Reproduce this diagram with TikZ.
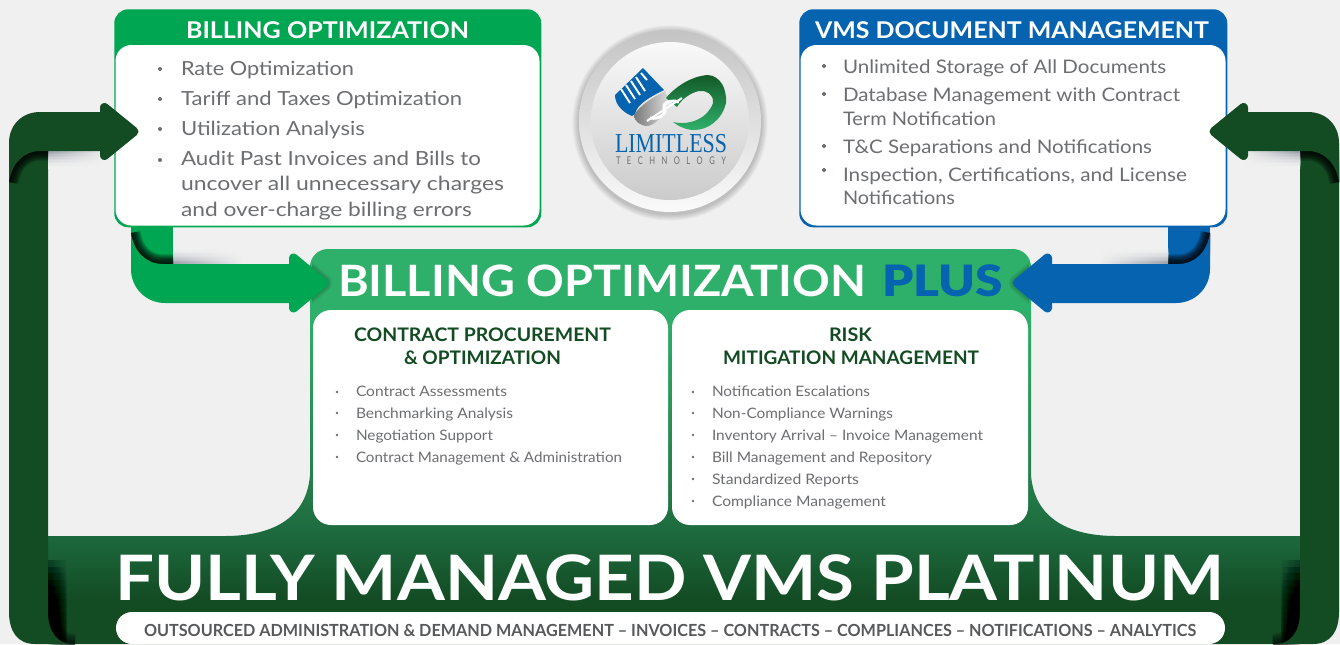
\documentclass[tikz,border=0pt]{standalone}
\usepackage{fontspec}
\usepackage{graphicx}
\setmainfont{Lato}
\newfontfamily\lblack{Lato Black}
\newfontfamily\logoserif{Liberation Serif}
\definecolor{bgc}{HTML}{F0F0F0}
\definecolor{gBright}{HTML}{00A651}
\definecolor{bBlue}{HTML}{0563B0}
\definecolor{gDark}{HTML}{134B23}
\definecolor{g1}{HTML}{2FB06A}
\definecolor{g2}{HTML}{247F4A}
\definecolor{g3}{HTML}{1C673C}
\definecolor{txtg}{HTML}{6D6E71}
\definecolor{subg}{HTML}{58595B}
\definecolor{shad}{HTML}{4F5A6E}
\definecolor{ringT}{HTML}{C4C4C4}
\definecolor{ringB}{HTML}{FAFAFA}
\definecolor{discT}{HTML}{F9F9F9}
\definecolor{discB}{HTML}{CBCBCB}
\definecolor{swL}{HTML}{787878}
\definecolor{swR}{HTML}{DCDCDC}
\definecolor{lgT}{HTML}{145A28}
\pgfdeclareverticalshading{bodyg}{100bp}{color(0bp)=(gDark); color(30.6bp)=(gDark); color(38.2bp)=(g3); color(45.8bp)=(g2); color(67.3bp)=(g1); color(100bp)=(g1)}
\newlength\pxu \pxu=0.75pt
\newcommand\fw[2]{\resizebox{#1\pxu}{\height}{#2}}
\newcommand\txt[6]{\node[tx,#5] (#1) at (#2,#3) {\fw{#4}{#6}};}
\newcommand\stackfold[3]{\foreach \k in {1,...,8}{\draw[black,opacity=#2,line width={\k*#3}] #1;}}
\newcommand\headshape[5]{% colour, barb x, tip x, mid y, half height
  \draw[#1,fill=#1,line width=9\pxu,line cap=round,line join=round] (#2,#4-#5) -- (#3,#4) -- (#2,#4+#5) -- cycle;}
% soft shadow on the flat ground: nested opaque strips, #1/#2 = side of the dark end
\newcommand\softshadow[7]{% dark side, light side, x0, x1, y0, step (signed), peak percent
  \foreach \r in {12,11,...,1}{%
    \pgfmathtruncatemacro\pp{#7*(1-\r/13)*(1-\r/13)}
    \shade[#1 color=shad!\pp!bgc,#2 color=bgc] (#3,#5) rectangle (#4,{#5+\r*#6});
  }}
\newcommand\frameside[2]{%
  \foreach \r in {0,...,11}{\foreach \c in {1,...,16}{\fill[black,opacity=.018] (48,{560+\r*6.5}) rectangle ({48+\c*1.2},644);}}
  \stackfold{(48,612) .. controls (48,632) and (58,644) .. (75,644)}{.12}{2.6\pxu}
  \fill[gDark] (9,150) -- (9,612) .. controls (9,632) and (18,644) .. (35,644) -- (72,644) .. controls (58,644) and (48,632) .. (48,612) -- (48,150) -- cycle;
  \softshadow{#1}{#2}{48}{106}{151}{1.45}{62}
  \begin{scope}
    \clip (9,140) rectangle (48,205);
    \stackfold{(9,182) .. controls (12,163) and (24,151) .. (40,151) -- (48,151)}{.2}{2.4\pxu}
  \end{scope}
  \fill[gDark] (9,182) .. controls (12,163) and (24,151) .. (40,151) -- (106,151) -- (106,112) -- (40,112) .. controls (22,112) and (9,125) .. (9,143) -- cycle;
  \headshape{gDark}{104.5}{134}{131.5}{24}
}
\newcommand\lowerarm[3]{%
  \begin{scope}
    \clip (312,245) rectangle (345,320);
    \foreach \k in {1,...,6}{\draw[black,opacity=.07,line width={\k*3\pxu},line join=round] (293,258) -- (323,283) -- (293,308) -- cycle;}
  \end{scope}
  \fill[#1] (131,227) rectangle (173,266);
  \softshadow{#2}{#3}{173}{243}{264}{-1.3}{62}
  \begin{scope}
    \clip (131,227) rectangle (173,270);
    \stackfold{(131,233) .. controls (134,252) and (146,264) .. (163,264) -- (173,264)}{.2}{2.4\pxu}
  \end{scope}
  \fill[#1] (131,233) .. controls (134,252) and (146,264) .. (163,264) -- (295,264) -- (295,303) -- (165,303) .. controls (146,303) and (131,288) .. (131,269) -- cycle;
  \headshape{#1}{293.5}{323.5}{283}{25}
}
\tikzset{
  tx/.style={anchor=base west,inner sep=0pt,outer sep=0pt},
  bodyL/.style={font=\fontsize{14.6pt}{16pt}\selectfont,text=txtg},
  bodyR/.style={font=\fontsize{14pt}{16pt}\selectfont,text=txtg},
  bodyM/.style={font=\fontsize{10.8pt}{12pt}\selectfont,text=txtg},
  headW/.style={font=\fontsize{17.3pt}{19pt}\bfseries\selectfont,text=white},
  headG/.style={font=\fontsize{14pt}{16pt}\bfseries\selectfont,text=gDark}
}
\begin{document}
\begin{tikzpicture}[x=0.75pt,y=-0.75pt]
\useasboundingbox (0,0) rectangle (1340,644);
\fill[bgc] (0,0) rectangle (1340,644);
% central body
\shade[shading=bodyg] (48,536) -- (225,536) .. controls (262,536) and (306,525) .. (310,475) -- (310,267) .. controls (310,257) and (318,249) .. (328,249) -- (1013,249) .. controls (1023,249) and (1031,257) .. (1031,267) -- (1031,475) .. controls (1035,525) and (1079,536) .. (1116,536) -- (1300,536) -- (1300,644) -- (48,644) -- cycle;
\fill[white,rounded corners=13.5pt] (313,310) rectangle (668,525);
\fill[white,rounded corners=13.5pt] (672,310) rectangle (1028,525);
\fill[white,rounded corners=12pt] (116,612) rectangle (1225,644);
% boxes
\node[draw=none,fill=gBright,rounded corners=10.5pt,minimum width=427\pxu,minimum height=218\pxu,inner sep=0pt,anchor=north west] (boxL) at (114,9) {};
\fill[white,rounded corners=12pt] (115.5,45) rectangle (539.5,225.5);
\node[draw=none,fill=bBlue,rounded corners=10.5pt,minimum width=428\pxu,minimum height=218\pxu,inner sep=0pt,anchor=north west] (boxR) at (799,9) {};
\fill[white,rounded corners=12pt] (800.5,45) rectangle (1225.5,225.5);
% green and blue arrows
\lowerarm{gBright}{left}{right}
\begin{scope}[shift={(1341,0)},xscale=-1]
\lowerarm{bBlue}{right}{left}
\end{scope}
% frame
\frameside{left}{right}
\begin{scope}[shift={(1348,0)},xscale=-1]
\frameside{right}{left}
\end{scope}
% logo
\foreach \k in {1,...,6}{\fill[black,opacity=.035] (670,123) circle ({91+\k*1.1});}
\shade[top color=ringT,bottom color=ringB] (670,121) circle (91);
\shade[top color=discT,bottom color=discB] (670,121) circle (79);
\fill[bBlue] (615,95) -- (643,68) -- (664,90) .. controls (650,97) and (637,104) .. (635,114) -- (632,116) .. controls (622,112) and (615,104) .. (615,95) -- cycle;
\foreach \a/\b/\c/\d in {621/89/630/103,626/85/635/99,631/81/640/95,636/77/645/91,641/73/647/80}{\draw[white,line width=1.9\pxu] (\a,\b) -- (\c,\d);}
\shade[left color=swL,right color=swR] (634,115) .. controls (640,105) and (655,96) .. (665,91) -- (668,98) .. controls (666,112) and (658,124) .. (648,126) .. controls (640,126) and (634,121) .. (634,115) -- cycle;
\shade[top color=lgT,bottom color=g1] (666,98) .. controls (676,86) and (692,76) .. (708,75) .. controls (720,76) and (727,88) .. (726,103) .. controls (722,120) and (708,130) .. (694,130) .. controls (686,130) and (678,126) .. (673,122) .. controls (690,126) and (708,118) .. (713,103) .. controls (714,94) and (706,90) .. (699,91) .. controls (690,93) and (682,99) .. (677,107) -- cycle;
\draw[white,line width=2\pxu] (647,121) -- (682,98);
\draw[white,line width=3\pxu] (679,102) .. controls (670,99) and (662,104) .. (664,108) .. controls (668,112) and (660,120) .. (650,118);
\node[tx,font=\fontsize{20.5pt}{22pt}\logoserif\selectfont,text=bBlue] (lim) at (615,152) {\fw{112}{LIMITLESS}};
\node[tx,font=\fontsize{8pt}{9pt}\selectfont,text=txtg] (tech) at (616,164) {\fw{110}{T\hspace{6.8pt}E\hspace{6.8pt}C\hspace{6.8pt}H\hspace{6.8pt}N\hspace{6.8pt}O\hspace{6.8pt}L\hspace{6.8pt}O\hspace{6.8pt}G\hspace{6.8pt}Y}};
% box headers
\txt{tBO}{186}{38}{283}{headW}{BILLING OPTIMIZATION}
\txt{tVD}{815}{38}{394}{headW}{VMS DOCUMENT MANAGEMENT}
% left list
\foreach \y in {69,99,129,160}{\fill[txtg] (160,\y) circle (2);}
\txt{l1}{181}{75}{173}{bodyL}{Rate Optimization}
\txt{l2}{181}{105}{281}{bodyL}{Tariff and Taxes Optimization}
\txt{l3}{181}{135}{184}{bodyL}{Utilization Analysis}
\txt{l4}{181}{165}{300}{bodyL}{Audit Past Invoices and Bills to}
\txt{l5}{181}{190}{323}{bodyL}{uncover all unnecessary charges}
\txt{l6}{181}{216}{291}{bodyL}{and over-charge billing errors}
% right list
\foreach \y in {66,94,146,170}{\fill[txtg] (824,\y) circle (2);}
\txt{r1}{843}{73}{323}{bodyR}{Unlimited Storage of All Documents}
\txt{r2}{843}{101}{337}{bodyR}{Database Management with Contract}
\txt{r3}{843}{125}{153}{bodyR}{Term Notification}
\txt{r4}{843}{153}{309}{bodyR}{T\&C Separations and Notifications}
\txt{r5}{843}{181}{344}{bodyR}{Inspection, Certifications, and License}
\txt{r6}{843}{204}{112}{bodyR}{Notifications}
% centre title
\node[tx,font=\fontsize{32.4pt}{34pt}\bfseries\selectfont,text=white] (tMain) at (338,296) {\fw{528}{BILLING OPTIMIZATION}};
\node[tx,font=\fontsize{32.4pt}{34pt}\lblack\selectfont,text=bBlue] (tPlus) at (882,296) {\fw{121}{PLUS}};
% panels
\txt{cp1}{354}{341}{257}{headG}{CONTRACT PROCUREMENT}
\txt{cp2}{404}{364}{157}{headG}{\& OPTIMIZATION}
\txt{rm1}{829}{341}{43}{headG}{RISK}
\txt{rm2}{723}{364}{256}{headG}{MITIGATION MANAGEMENT}
\foreach \y in {392,413,435,457}{\fill[txtg] (337,\y) circle (1.4);}
\foreach \y in {392,413,435,457,479,501}{\fill[txtg] (693,\y) circle (1.4);}
\txt{a1}{356}{396}{151}{bodyM}{Contract Assessments}
\txt{a2}{356}{418}{157}{bodyM}{Benchmarking Analysis}
\txt{a3}{356}{440}{137}{bodyM}{Negotiation Support}
\txt{a4}{356}{462}{266}{bodyM}{Contract Management \& Administration}
\txt{b1}{712}{396}{158}{bodyM}{Notification Escalations}
\txt{b2}{712}{418}{181}{bodyM}{Non-Compliance Warnings}
\txt{b3}{712}{440}{271}{bodyM}{Inventory Arrival – Invoice Management}
\txt{b4}{712}{462}{220}{bodyM}{Bill Management and Repository}
\txt{b5}{712}{484}{147}{bodyM}{Standardized Reports}
\txt{b6}{712}{506}{174}{bodyM}{Compliance Management}
% bottom
\node[tx,font=\fontsize{47pt}{50pt}\bfseries\selectfont,text=white] (tFull) at (115,600) {\fw{1109}{FULLY MANAGED VMS PLATINUM}};
\node[tx,font=\fontsize{12.5pt}{14pt}\bfseries\selectfont,text=subg] (tSub) at (144,636) {\fw{1052}{OUTSOURCED ADMINISTRATION \& DEMAND MANAGEMENT – INVOICES – CONTRACTS – COMPLIANCES – NOTIFICATIONS – ANALYTICS}};
\end{tikzpicture}
\end{document}
